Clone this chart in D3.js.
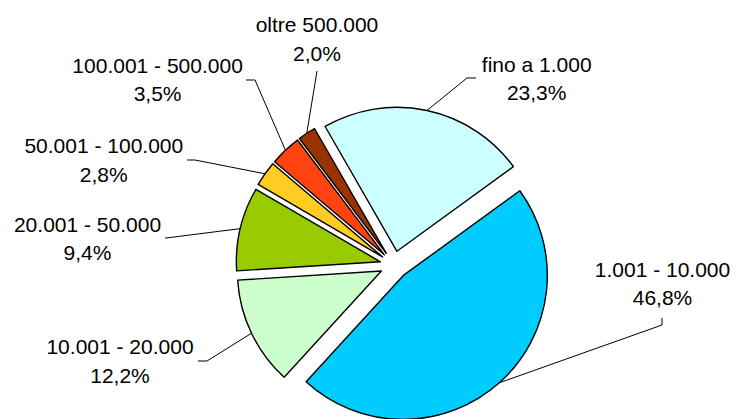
<!DOCTYPE html>
<html>
<head>
<meta charset="utf-8">
<script src="https://cdn.jsdelivr.net/npm/d3@7"></script>
<style>
  html, body { margin: 0; padding: 0; background: #fff; }
  svg { display: block; }
  text { font-family: "Liberation Sans", Arial, sans-serif; font-size: 21px; fill: #000; }
</style>
</head>
<body>
<svg id="chart" width="737" height="419"></svg>
<script>
// classi di importo (clockwise, from the slice at about 11 o'clock)
const categories = ['fino a 1.000', '1.001 - 10.000', '10.001 - 20.000', '20.001 - 50.000',
    '50.001 - 100.000', '100.001 - 500.000', 'oltre 500.000'];
const shares = [23.3, 46.8, 12.2, 9.4, 2.8, 3.5, 2.0];
const colors = ['#ccffff', '#00ccff', '#ccffcc', '#99cc00', '#ffcc22', '#ff4412', '#993300'];

// label placement: text centre + baseline, leader anchor and bend
const labelPos = [
    { x: 536.7, y: 71.7, ax: 476, ay: 78, bx: 467, by: 78 },
    { x: 662.5, y: 276.7, ax: 662, ay: 318, bx: 662, by: 325 },
    { x: 120, y: 354, ax: 198, ay: 361, bx: 207, by: 361 },
    { x: 87.5, y: 231.7, ax: 165, ay: 238, bx: 166, by: 238 },
    { x: 103.8, y: 153.3, ax: 187, ay: 160, bx: 195, by: 160 },
    { x: 157.6, y: 72.7, ax: 246, ay: 80, bx: 255, by: 80 },
    { x: 317, y: 32, ax: 317, ay: 71, bx: 317, by: 71 }
];

const cx = 394, cy = 265, r = 144, explode = 14, lineH = 28.5;
const start = -29.9 * Math.PI / 180;

const it = d3.formatLocale({ decimal: ',', thousands: '.', grouping: [3], currency: ['', '€'] });
const pct = it.format('.1f');

const data = categories.map((c, i) => ({ name: c, value: shares[i], color: colors[i], pos: labelPos[i] }));

const pie = d3.pie()
    .sort(null)
    .value(d => d.value)
    .startAngle(start)
    .endAngle(start + 2 * Math.PI);

const arc = d3.arc().innerRadius(0).outerRadius(r);

const svg = d3.select('#chart');
const g = svg.append('g').attr('transform', `translate(${cx},${cy})`);

const arcs = pie(data);
const offset = d => {
    const a = (d.startAngle + d.endAngle) / 2;
    return [explode * Math.sin(a), -explode * Math.cos(a)];
};

// leader lines
g.selectAll('path.leader')
    .data(arcs)
    .enter()
    .append('path')
    .attr('class', 'leader')
    .attr('fill', 'none')
    .attr('stroke', '#000')
    .attr('stroke-width', 1)
    .attr('d', d => {
        const a = (d.startAngle + d.endAngle) / 2;
        const o = offset(d);
        const px = o[0] + r * Math.sin(a), py = o[1] - r * Math.cos(a);
        const p = d.data.pos;
        return d3.line()([[p.ax - cx, p.ay - cy], [p.bx - cx, p.by - cy], [px, py]]);
    });

// slices
g.selectAll('path.slice')
    .data(arcs)
    .enter()
    .append('path')
    .attr('class', 'slice')
    .attr('transform', d => `translate(${offset(d)})`)
    .attr('d', arc)
    .style('fill', d => d.data.color)
    .attr('stroke', '#000')
    .attr('stroke-width', 1.4)
    .attr('stroke-linejoin', 'round');

// labels
const lab = svg.selectAll('text.lbl')
    .data(arcs)
    .enter()
    .append('text')
    .attr('class', 'lbl')
    .attr('text-anchor', 'middle');

lab.append('tspan')
    .attr('x', d => d.data.pos.x)
    .attr('y', d => d.data.pos.y)
    .text(d => d.data.name);

lab.append('tspan')
    .attr('x', d => d.data.pos.x)
    .attr('y', d => d.data.pos.y + lineH)
    .text(d => pct(d.data.value) + '%');
</script>
</body>
</html>
